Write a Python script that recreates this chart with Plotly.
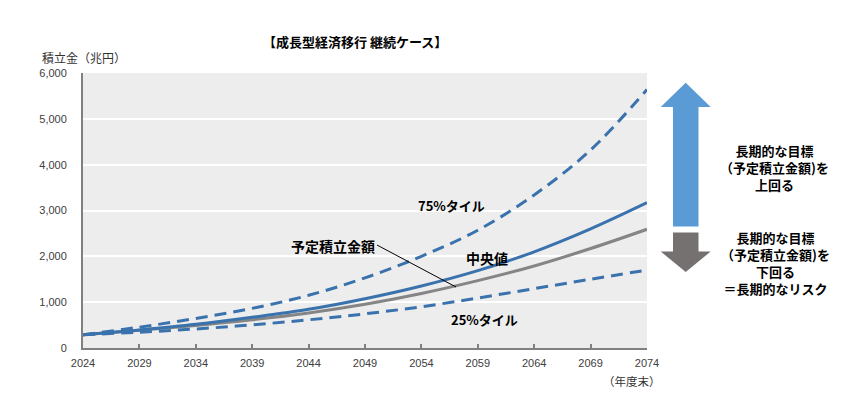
import plotly.graph_objects as go

# ---- data ----
years = [2024, 2029, 2034, 2039, 2044, 2049, 2054, 2059, 2064, 2069, 2074]
median = [290, 395, 516, 669, 844, 1075, 1353, 1688, 2098, 2598, 3170]
planned = [290, 385, 490, 615, 765, 955, 1190, 1470, 1790, 2170, 2590]
p75 = [290, 455, 645, 865, 1150, 1530, 2000, 2570, 3340, 4320, 5640]
p25 = [290, 345, 415, 505, 615, 745, 900, 1090, 1295, 1500, 1700]
x_ticks = [2024, 2029, 2034, 2039, 2044, 2049, 2054, 2059, 2064, 2069, 2074]
y_ticks = [0, 1000, 2000, 3000, 4000, 5000, 6000]

W, H = 854, 412
L, R, T, B = 83, 647, 73, 348  # plot area pixels
PW, PH = R - L, B - T

def px(x):
    return (x - L) / PW

def py(y):
    return (B - y) / PH

BLUE = "#3a72ad"
GREY = "#858585"
JP = "Noto Sans CJK JP"

fig = go.Figure()
fig.add_trace(go.Scatter(x=years, y=planned, mode="lines",
                         line=dict(color=GREY, width=3, shape="spline", smoothing=1.0),
                         hoverinfo="skip"))
fig.add_trace(go.Scatter(x=years, y=p25, mode="lines",
                         line=dict(color=BLUE, width=3, dash="12px,7px", shape="spline", smoothing=1.0),
                         hoverinfo="skip"))
fig.add_trace(go.Scatter(x=years, y=p75, mode="lines",
                         line=dict(color=BLUE, width=3, dash="12px,7px", shape="spline", smoothing=1.0),
                         hoverinfo="skip"))
fig.add_trace(go.Scatter(x=years, y=median, mode="lines",
                         line=dict(color=BLUE, width=3, shape="spline", smoothing=1.0),
                         hoverinfo="skip"))

def yr(x):
    return 2024 + (x - L) / PW * 50

def val(y):
    return (B - y) / PH * 6000

annots = []

def add_data_label(xp, yp, text, size=13, xanchor="center"):
    annots.append(dict(x=yr(xp), y=val(yp), xref="x", yref="y", text=text,
                       xanchor=xanchor, yanchor="middle", showarrow=False,
                       font=dict(family=JP, size=size, color="#000")))

add_data_label(451, 205, "<b>75%タイル</b>")
add_data_label(487, 258, "<b>中央値</b>", size=14)
add_data_label(484, 319, "<b>25%タイル</b>")
add_data_label(377, 246, "<b>予定積立金額</b>", size=14, xanchor="right")

def add_paper(xp, yp, text, size, color="#000", xanchor="center", yanchor="middle"):
    annots.append(dict(x=px(xp), y=py(yp), xref="paper", yref="paper", text=text,
                       xanchor=xanchor, yanchor=yanchor, showarrow=False, align="center",
                       font=dict(family=JP, size=size, color=color)))

add_paper(355, 42, "<b>【成長型経済移行 継続ケース】</b>", 13)
add_paper(40, 57, "積立金（兆円）", 12, color="#333", xanchor="left")
add_paper(632, 381, "（年度末）", 11.5, color="#333")
add_paper(774, 167, "<b>長期的な目標<br>（予定積立金額)を<br>上回る</b>", 13)
add_paper(775, 263, "<b>長期的な目標<br>（予定積立金額)を<br>下回る<br>＝長期的なリスク</b>", 13)

def path(points):
    return "M " + " L ".join(f"{px(x):.5f},{py(y):.5f}" for x, y in points) + " Z"

shapes = []
up = [(685.7, 82.7), (710.7, 107), (698.5, 107), (698.5, 226.5), (673, 226.5), (673, 107), (660.7, 107)]
down = [(673, 232.5), (698.5, 232.5), (698.5, 251.5), (710.7, 251.5), (685.7, 272), (660.7, 251.5), (673, 251.5)]
shapes.append(dict(type="path", xref="paper", yref="paper", path=path(up),
                   fillcolor="#5b9bd5", line=dict(width=0)))
shapes.append(dict(type="path", xref="paper", yref="paper", path=path(down),
                   fillcolor="#767171", line=dict(width=0)))
# leader line for 予定積立金額
shapes.append(dict(type="line", xref="x", yref="y", x0=yr(377), y0=val(245), x1=yr(456), y1=val(287),
                   line=dict(color="#000", width=1)))

fig.update_layout(
    width=W, height=H,
    margin=dict(l=L, r=W - R, t=T, b=H - B),
    paper_bgcolor="white", plot_bgcolor="#ededed",
    showlegend=False,
    annotations=annots, shapes=shapes,
    font=dict(family="Liberation Sans", size=11, color="#404040"),
)
fig.update_xaxes(range=[2024, 2074], tickvals=x_ticks, ticktext=[str(v) for v in x_ticks],
                 showgrid=False, zeroline=False, showline=True, linecolor="#808080", linewidth=2,
                 ticks="inside", ticklen=4, tickwidth=1.5, tickcolor="#808080",
                 tickfont=dict(family="Liberation Sans", size=11, color="#404040"),
                 ticklabelstandoff=4)
fig.update_yaxes(range=[0, 6000], tickvals=y_ticks, tickformat=",",
                 showgrid=True, gridcolor="white", gridwidth=2, zeroline=False,
                 showline=True, linecolor="#808080", linewidth=2, ticks="",
                 tickfont=dict(family="Liberation Sans", size=11, color="#404040"),
                 ticklabelstandoff=12)

fig.write_html("out.html", config={"displayModeBar": False},
               post_script="document.body.style.margin='0';document.body.style.overflow='hidden';")
